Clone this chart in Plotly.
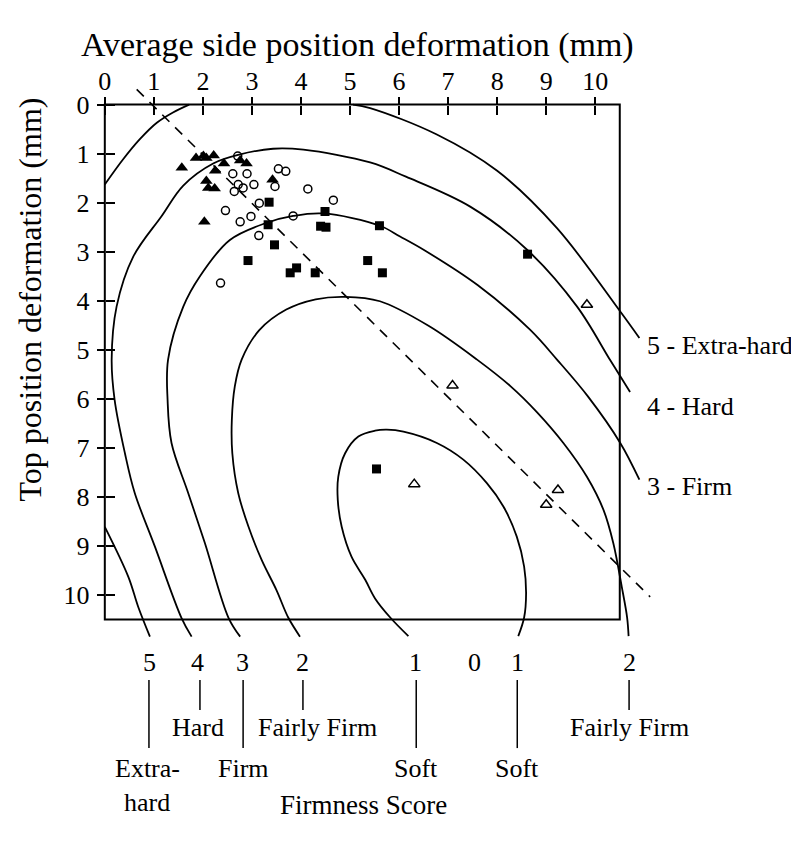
import plotly.graph_objects as go

# ---------------- data ----------------
X_TICKS = list(range(0, 11))
Y_TICKS = list(range(0, 11))

# filled triangles
TRI_FILLED_X = [1.57, 1.86, 2.01, 2.07, 2.22, 2.43, 2.25, 2.07, 2.11, 2.24, 2.03, 2.76, 2.89, 3.42]
TRI_FILLED_Y = [1.29, 1.09, 1.05, 1.09, 1.04, 1.20, 1.35, 1.56, 1.70, 1.71, 2.39, 1.14, 1.20, 1.53]

# open circles
CIRCLE_X = [2.71, 2.61, 2.90, 2.72, 2.64, 2.82, 3.04, 3.54, 3.69, 3.47, 4.14, 4.66, 2.46, 3.15, 2.98, 2.76, 3.84, 3.14, 2.36]
CIRCLE_Y = [1.05, 1.41, 1.41, 1.63, 1.77, 1.70, 1.63, 1.31, 1.36, 1.67, 1.72, 1.95, 2.16, 2.01, 2.28, 2.39, 2.27, 2.67, 3.64]

# filled squares
SQUARE_X = [3.35, 4.49, 4.40, 4.51, 5.60, 3.33, 3.46, 2.92, 5.36, 5.66, 3.78, 3.91, 4.29, 8.62, 5.54]
SQUARE_Y = [1.99, 2.18, 2.48, 2.50, 2.47, 2.45, 2.86, 3.18, 3.18, 3.43, 3.43, 3.33, 3.43, 3.05, 7.43]

# open triangles
TRI_OPEN_X = [9.83, 7.09, 6.31, 9.24, 9.00]
TRI_OPEN_Y = [4.08, 5.73, 7.74, 7.86, 8.16]

# dashed reference line (end points)
DASH_X = [0.65, 11.12]
DASH_Y = [-0.31, 10.04]

# firmness-score contour lines
LEVEL1_X = [6.19, 5.82, 5.51, 5.31, 5.03, 4.83, 4.75, 4.76, 4.90, 5.17, 5.51, 5.75, 6.09, 6.77, 7.31, 7.79, 8.13, 8.40, 8.55, 8.59, 8.55, 8.43]
LEVEL1_Y = [10.84, 10.46, 10.07, 9.69, 9.22, 8.61, 8.06, 7.59, 7.11, 6.77, 6.65, 6.63, 6.67, 6.90, 7.24, 7.72, 8.20, 8.81, 9.42, 9.97, 10.46, 10.84]

LEVEL2_X = [3.98, 3.74, 3.50, 3.20, 2.93, 2.72, 2.60, 2.59, 2.65, 2.79, 3.15, 3.70, 4.30, 4.90, 5.61, 6.60, 7.59, 8.27, 8.81, 9.35, 9.83, 10.17, 10.37, 10.54, 10.65, 10.68]
LEVEL2_Y = [10.85, 10.46, 9.90, 9.29, 8.61, 7.92, 7.11, 6.43, 5.75, 5.20, 4.60, 4.18, 3.97, 3.92, 4.01, 4.51, 5.20, 5.74, 6.27, 6.90, 7.59, 8.27, 8.95, 9.83, 10.46, 10.84]

LEVEL3_X = [2.76, 2.52, 2.04, 1.70, 1.36, 1.28, 1.29, 1.60, 1.94, 2.55, 3.30, 3.84, 4.45, 5.61, 6.02, 6.50, 7.60, 8.67, 9.22, 9.85, 10.51, 10.90]
LEVEL3_Y = [10.85, 10.46, 8.94, 7.92, 6.90, 6.02, 5.20, 4.12, 3.50, 2.76, 2.41, 2.27, 2.22, 2.47, 2.69, 2.96, 3.68, 4.59, 5.20, 5.95, 6.90, 7.65]

LEVEL4_X = [1.77, 1.56, 1.02, 0.61, 0.41, 0.20, 0.14, 0.24, 0.58, 1.16, 1.60, 2.21, 2.74, 3.43, 4.05, 5.41, 6.14, 7.45, 8.61, 9.63, 10.31, 10.71]
LEVEL4_Y = [10.85, 10.46, 9.01, 7.92, 7.11, 6.02, 5.20, 4.12, 3.10, 2.27, 1.65, 1.20, 1.02, 0.90, 0.92, 1.18, 1.47, 2.08, 2.96, 4.12, 5.22, 5.86]

LEVEL5_X = [0.00, 0.37, 0.71, 1.06, 1.39, 1.72, None,
            5.06, 5.41, 6.77, 8.00, 9.22, 10.51, 10.90, None,
            0.00, 0.48, 0.68, 0.92]
LEVEL5_Y = [1.63, 1.12, 0.71, 0.37, 0.16, 0.00, None,
            0.00, 0.07, 0.61, 1.35, 2.52, 4.22, 4.76, None,
            8.61, 9.63, 10.24, 10.85]

# labels
SCORE_NUM_X = [0.92, 1.90, 2.80, 4.04, 6.33, 7.53, 8.41, 10.69]
SCORE_NUM_TEXT = ["5", "4", "3", "2", "1", "0", "1", "2"]
SCORE_LINE_X = [0.90, 1.94, 2.82, 4.04, 6.35, 8.41, 10.69]
SCORE_LINE_LONG = [True, False, True, False, True, True, False]
CATEGORY_TEXT = ["Extra-", "hard", "Hard", "Firm", "Fairly Firm", "Soft", "Soft", "Fairly Firm"]
CATEGORY_X = [0.88, 0.86, 1.90, 2.82, 4.33, 6.35, 8.41, 10.69]
CATEGORY_ROW = [2, 3, 1, 2, 1, 2, 2, 1]
RIGHT_TEXT = ["5 - Extra-hard", "4 - Hard", "3 - Firm"]
RIGHT_Y = [4.92, 6.16, 7.78]

# ---------------- geometry ----------------
PAGE_OFFSET = 8          # browser body margin
W, H = 799 - PAGE_OFFSET, 849 - PAGE_OFFSET
UNIT = 49.0
FRAME = 10.5
X_RANGE = [-0.2, 11.3]
Y_RANGE = [11.0, -0.4]
ML = 105 - PAGE_OFFSET + X_RANGE[0] * UNIT
MT = 105 - PAGE_OFFSET + Y_RANGE[1] * UNIT
PW = (X_RANGE[1] - X_RANGE[0]) * UNIT
PH = (Y_RANGE[0] - Y_RANGE[1]) * UNIT
MR = W - ML - PW
MB = H - MT - PH


def xpaper(x):
    return (x - X_RANGE[0]) / (X_RANGE[1] - X_RANGE[0])


def ypaper(y):
    return (Y_RANGE[0] - y) / (Y_RANGE[0] - Y_RANGE[1])


def px_to_x(px):
    return (px - 105) / UNIT


def px_to_y(py):
    return (py - 105) / UNIT


FONT = "Liberation Serif, Times New Roman, serif"
BLACK = "black"

fig = go.Figure()

for lx, ly in [(LEVEL1_X, LEVEL1_Y), (LEVEL2_X, LEVEL2_Y), (LEVEL3_X, LEVEL3_Y),
               (LEVEL4_X, LEVEL4_Y), (LEVEL5_X, LEVEL5_Y)]:
    fig.add_trace(go.Scatter(x=lx, y=ly, mode="lines", connectgaps=False,
                             line=dict(color=BLACK, width=1.8, shape="spline", smoothing=1.0),
                             hoverinfo="skip", showlegend=False))

fig.add_trace(go.Scatter(x=DASH_X, y=DASH_Y, mode="lines",
                         line=dict(color=BLACK, width=1.6, dash="10px,8px"),
                         hoverinfo="skip", showlegend=False))

fig.add_trace(go.Scatter(x=TRI_FILLED_X, y=TRI_FILLED_Y, mode="markers",
                         marker=dict(symbol="triangle-up", size=11, color=BLACK),
                         showlegend=False, cliponaxis=False))
fig.add_trace(go.Scatter(x=CIRCLE_X, y=CIRCLE_Y, mode="markers",
                         marker=dict(symbol="circle-open", size=8, color=BLACK, line=dict(width=1.5)),
                         showlegend=False, cliponaxis=False))
fig.add_trace(go.Scatter(x=SQUARE_X, y=SQUARE_Y, mode="markers",
                         marker=dict(symbol="square", size=9, color=BLACK),
                         showlegend=False, cliponaxis=False))
fig.add_trace(go.Scatter(x=TRI_OPEN_X, y=TRI_OPEN_Y, mode="markers",
                         marker=dict(symbol="triangle-up-open", size=10, color=BLACK, line=dict(width=1.5)),
                         showlegend=False, cliponaxis=False))

# dummy trace so the overlay axes (inside tick halves) are drawn
fig.add_trace(go.Scatter(x=[None], y=[None], xaxis="x2", yaxis="y2", mode="markers",
                         showlegend=False, hoverinfo="skip"))

tickfont = dict(family=FONT, size=26, color=BLACK)
common = dict(showgrid=False, zeroline=False, showline=False, tickcolor=BLACK, tickwidth=1.6)

fig.update_layout(
    width=W, height=H, template="none",
    paper_bgcolor="white", plot_bgcolor="white",
    margin=dict(l=ML, r=MR, t=MT, b=MB, pad=0, autoexpand=False),
    xaxis=dict(range=X_RANGE, side="top", anchor="free", position=ypaper(0),
               tickvals=X_TICKS, ticktext=[str(v) for v in X_TICKS],
               ticks="outside", ticklen=8, tickfont=tickfont, ticklabelstandoff=-4, **common),
    xaxis2=dict(range=X_RANGE, side="top", anchor="free", position=ypaper(0), overlaying="x",
                tickvals=X_TICKS, ticks="inside", ticklen=9, showticklabels=False, **common),
    yaxis=dict(range=Y_RANGE, side="left", anchor="free", position=xpaper(0),
               tickvals=Y_TICKS, ticktext=[str(v) for v in Y_TICKS],
               ticks="outside", ticklen=8, tickfont=tickfont, ticklabelstandoff=2, **common),
    yaxis2=dict(range=Y_RANGE, side="left", anchor="free", position=xpaper(0), overlaying="y",
                tickvals=Y_TICKS, ticks="inside", ticklen=9, showticklabels=False, **common),
    showlegend=False,
)

# frame
fig.add_shape(type="rect", xref="x", yref="y", x0=0, x1=FRAME, y0=0, y1=FRAME,
              line=dict(color=BLACK, width=2), fillcolor="rgba(0,0,0,0)", layer="above")

annos = []


def anno(text, x, y, xref, yref, size, xanchor="center", textangle=0):
    annos.append(dict(text=text, x=x, y=y, xref=xref, yref=yref, xanchor=xanchor,
                      yanchor="middle", showarrow=False, textangle=textangle, borderpad=0,
                      font=dict(family=FONT, size=size, color=BLACK)))


# axis titles
anno("Average side position deformation (mm)", px_to_x(357), ypaper(px_to_y(45)), "x", "paper", 34)
anno("Top position deformation (mm)", xpaper(px_to_x(30)), px_to_y(300), "paper", "y", 32, textangle=-90)
anno("Firmness Score", px_to_x(363), ypaper(px_to_y(805)), "x", "paper", 27)

# right-hand score labels
for t, yy in zip(RIGHT_TEXT, RIGHT_Y):
    anno(t, px_to_x(646), yy, "x", "y", 26, xanchor="left")

# bottom score numbers
for t, xx in zip(SCORE_NUM_TEXT, SCORE_NUM_X):
    anno(t, xx, ypaper(px_to_y(662)), "x", "paper", 26)

# category labels
row_y = {1: px_to_y(727), 2: px_to_y(768), 3: px_to_y(802)}
for t, xx, r in zip(CATEGORY_TEXT, CATEGORY_X, CATEGORY_ROW):
    anno(t, xx, ypaper(row_y[r]), "x", "paper", 26)

fig.update_layout(annotations=annos)

# short vertical connector lines under the numbers
for xx, long in zip(SCORE_LINE_X, SCORE_LINE_LONG):
    bottom = px_to_y(748) if long else px_to_y(710)
    fig.add_shape(type="line", xref="x", yref="paper", x0=xx, x1=xx,
                  y0=ypaper(px_to_y(680)), y1=ypaper(bottom),
                  line=dict(color=BLACK, width=1.5))

fig.write_html("out.html")
